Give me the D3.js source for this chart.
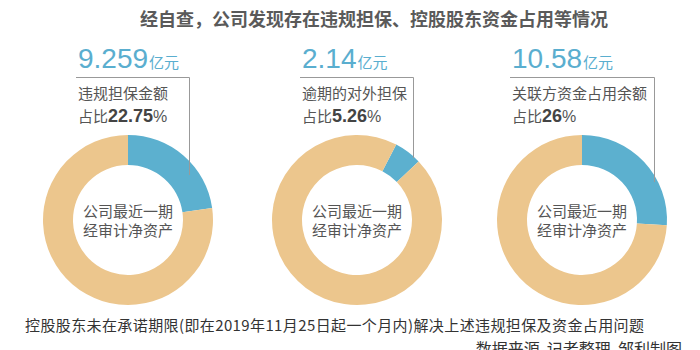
<!DOCTYPE html>
<html><head><meta charset="utf-8">
<script src="https://cdn.jsdelivr.net/npm/d3@7"></script>
<style>body{margin:0;background:#fff}svg{display:block}</style>
</head><body>
<script>
const title = "经自查，公司发现存在违规担保、控股股东资金占用等情况";
const amounts = ["9.259", "2.14", "10.58"];
const unit = "亿元";
const labels = ["违规担保金额", "逾期的对外担保", "关联方资金占用余额"];
const shares = [22.75, 5.26, 26];
const shareText = ["22.75", "5.26", "26"];
const centerLines = ["公司最近一期", "经审计净资产"];
const footer = "控股股东未在承诺期限(即在2019年11月25日起一个月内)解决上述违规担保及资金占用问题";
const source = "数据来源  记者整理  邹利制图";

// layout (not data)
const cx = [128, 357, 582], cy = 220, rOut = 85, rIn = 55;
const labelX = [78, 302, 512], leaderX = [189, 413, 654], leaderEndY = [175, 158, 182];
const startDeg = [0, 27.5, 0];
const blue = "#5cb0cf", tan = "#ecc68d";
const cjk = "'Noto Sans CJK SC','Noto Sans',sans-serif";
const latin = "'Liberation Sans',Arial,sans-serif";

const svg = d3.select("body").append("svg").attr("width", 700).attr("height", 350);

svg.append("text").attr("x", 374).attr("y", 26).attr("text-anchor", "middle")
  .attr("font-family", cjk).attr("font-size", 18).attr("font-weight", 700).attr("fill", "#5a5a5a")
  .text(title);

const arc = d3.arc().innerRadius(rIn).outerRadius(rOut);

shares.forEach((s, i) => {
  const a0 = startDeg[i] * Math.PI / 180;
  const pie = d3.pie().sort(null).value(d => d.v).startAngle(a0).endAngle(a0 + 2 * Math.PI);
  const g = svg.append("g").attr("transform", `translate(${cx[i]},${cy})`);
  g.selectAll("path").data(pie([{v: s, c: blue}, {v: 100 - s, c: tan}]))
    .join("path").attr("d", arc).attr("fill", d => d.data.c);
  g.selectAll("text.c").data(centerLines).join("text").attr("class", "c")
    .attr("x", 0).attr("y", (d, k) => -3 + k * 19).attr("text-anchor", "middle")
    .attr("font-family", cjk).attr("font-size", 15).attr("fill", "#555").text(d => d);

  // amount
  const t = svg.append("text").attr("x", labelX[i]).attr("y", 68).attr("fill", "#5aaecf");
  t.append("tspan").attr("font-family", latin).attr("font-size", 28).text(amounts[i]);
  t.append("tspan").attr("font-family", cjk).attr("font-size", 15).attr("dx", 1).text(unit);

  // leader
  svg.append("path")
    .attr("d", `M${labelX[i] - 2},77.5H${leaderX[i] + 0.5}V${leaderEndY[i]}`)
    .attr("fill", "none").attr("stroke", "#999").attr("stroke-width", 1);

  svg.append("text").attr("x", labelX[i]).attr("y", 99)
    .attr("font-family", cjk).attr("font-size", 15).attr("fill", "#555").text(labels[i]);
  const p = svg.append("text").attr("x", labelX[i]).attr("y", 122).attr("fill", "#555");
  p.append("tspan").attr("font-family", cjk).attr("font-size", 15).text("占比");
  p.append("tspan").attr("font-family", latin).attr("font-size", 18).attr("font-weight", 700)
    .attr("fill", "#444").text(shareText[i]);
  p.append("tspan").attr("font-family", latin).attr("font-size", 16).text("%");
});

svg.append("text").attr("x", 25).attr("y", 331)
  .attr("font-family", cjk).attr("font-size", 15).attr("fill", "#333")
  .attr("textLength", 619).attr("lengthAdjust", "spacing").text(footer);
svg.append("text").attr("x", 682).attr("y", 355).attr("text-anchor", "end")
  .attr("font-family", cjk).attr("font-size", 16).attr("fill", "#333")
  .attr("xml:space", "preserve").style("white-space", "pre").text(source);
</script>
</body></html>
